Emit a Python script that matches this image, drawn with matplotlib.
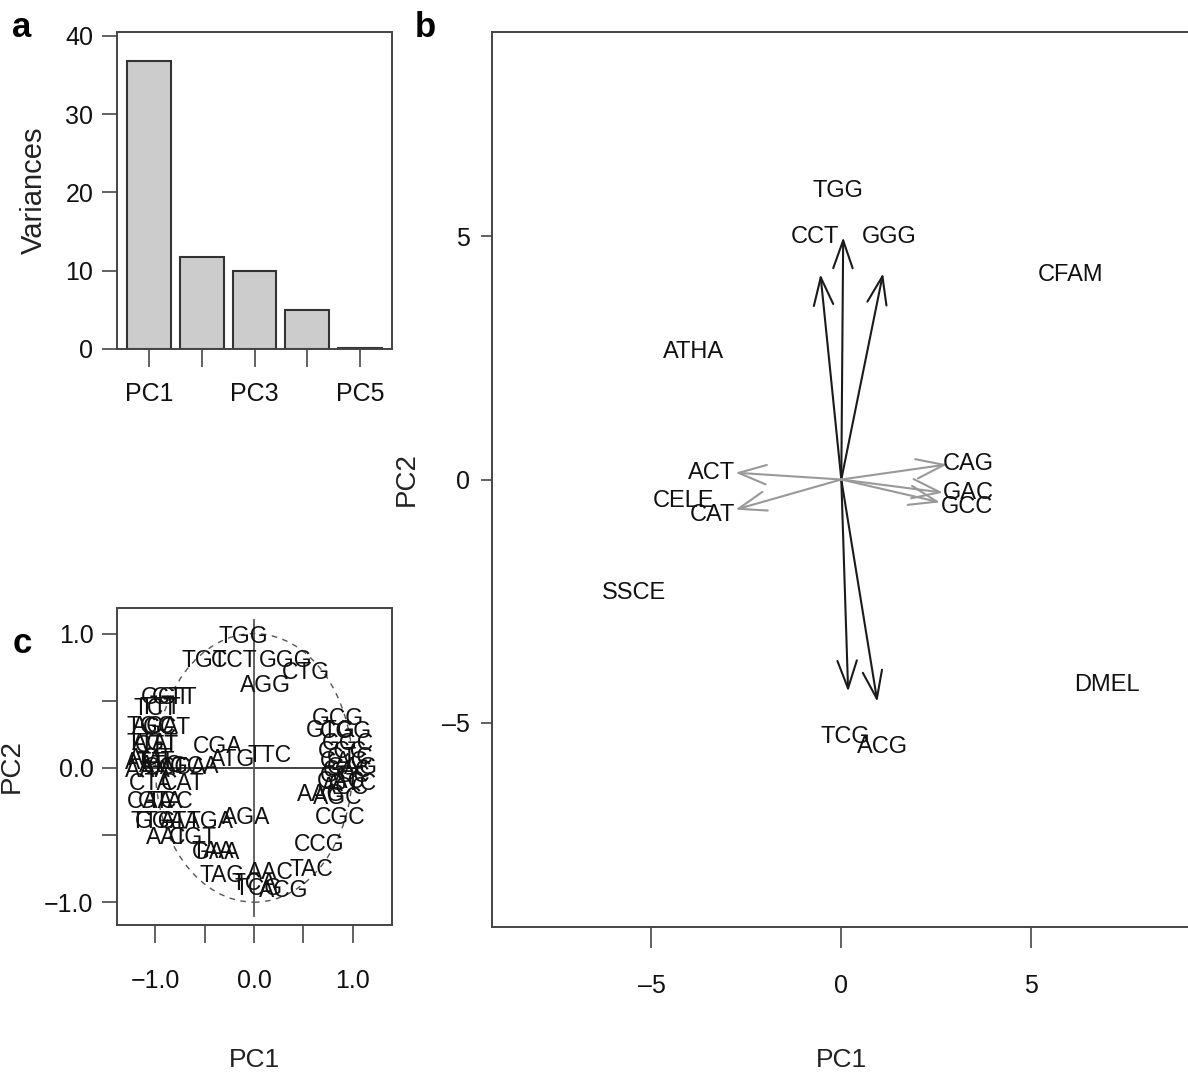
import numpy as np
import matplotlib.pyplot as plt
from matplotlib.patches import Circle, FancyArrowPatch

plt.rcParams['font.family'] = ['Liberation Sans', 'DejaVu Sans']

# panel a: scree plot
pcs = ['PC1', 'PC2', 'PC3', 'PC4', 'PC5']
variances = [36.8, 11.8, 10.0, 5.0, 0.1]

# panel b: biplot
species = ['ATHA', 'CFAM', 'CELE', 'SSCE', 'DMEL']
species_x = [-3.89, 6.05, -4.16, -5.47, 7.00]
species_y = [2.63, 4.20, -0.45, -2.33, -4.22]

codons_b = ['TGG', 'CCT', 'GGG', 'TCG', 'ACG', 'ACT', 'CAT', 'CAG', 'GAC', 'GCC']
tip_x = [0.05, -0.55, 1.10, 0.18, 0.95, -2.79, -2.79, 2.79, 2.68, 2.60]
tip_y = [4.98, 4.22, 4.24, -4.36, -4.57, 0.14, -0.62, 0.31, -0.27, -0.47]
lab_x = [-0.08, -0.69, 1.26, 0.10, 1.08, -3.42, -3.39, 3.34, 3.34, 3.32]
lab_y = [5.93, 4.98, 4.98, -5.29, -5.49, 0.14, -0.74, 0.31, -0.27, -0.56]
arrow_grey = [False, False, False, False, False, True, True, True, True, True]

# panel c: correlation circle
codons_c = ['AAA', 'AAC', 'AAG', 'AAT', 'ACA', 'ACC', 'ACG', 'ACT',
            'AGA', 'AGC', 'AGG', 'AGT', 'ATA', 'ATC', 'ATG', 'ATT',
            'CAA', 'CAC', 'CAG', 'CAT', 'CCA', 'CCC', 'CCG', 'CCT',
            'CGA', 'CGC', 'CGG', 'CGT', 'CTA', 'CTC', 'CTG', 'CTT',
            'GAA', 'GAC', 'GAG', 'GAT', 'GCA', 'GCC', 'GCG', 'GCT',
            'GGA', 'GGC', 'GGG', 'GGT', 'GTA', 'GTC', 'GTG', 'GTT',
            'TAA', 'TAC', 'TAG', 'TAT', 'TCA', 'TCC', 'TCG', 'TCT',
            'TGA', 'TGC', 'TGG', 'TGT', 'TTA', 'TTC', 'TTG', 'TTT']
cor_x = [-1.08, 0.17, 0.68, -0.88, -1.00, 0.92, 0.30, -1.05,
         -0.08, 0.85, 0.12, -1.00, -0.75, -0.95, -0.22, -1.10,
         -1.05, 0.88, 0.92, -0.72, -0.72, 0.90, 0.66, -0.20,
         -0.37, 0.87, 0.93, -0.62, -1.05, 0.98, 0.53, -0.98,
         -0.38, 0.95, 1.00, -0.90, -0.60, 0.93, 0.85, -0.88,
         -0.95, 0.95, 0.32, -0.90, -0.95, 1.00, 0.78, -0.80,
         -0.42, 0.58, -0.32, -1.00, 0.00, -0.85, 0.05, -1.00,
         -0.45, -1.05, -0.11, -0.50, -1.08, 0.16, -1.02, -0.95]
cor_y = [-0.02, -0.78, -0.20, -0.52, 0.31, -0.15, -0.91, 0.07,
         -0.37, -0.22, 0.61, 0.18, -0.40, 0.02, 0.06, 0.04,
         -0.25, -0.10, 0.05, -0.12, 0.00, 0.12, -0.57, 0.80,
         0.16, -0.37, 0.27, -0.52, -0.12, 0.08, 0.71, 0.17,
         -0.63, -0.02, 0.00, 0.00, 0.01, -0.06, 0.37, 0.30,
         -0.40, 0.18, 0.80, 0.52, -0.25, -0.12, 0.28, 0.52,
         -0.62, -0.76, -0.80, 0.05, -0.86, -0.25, -0.90, 0.44,
         -0.40, 0.31, 0.98, 0.80, 0.18, 0.09, -0.40, 0.45]

W, H = 1188, 1077
fig = plt.figure(figsize=(W / 100, H / 100), dpi=100)


def box(l, t, r, b):
    return [l / W, 1 - b / H, (r - l) / W, (b - t) / H]


def r_style(ax):
    for s in ax.spines.values():
        s.set_color('#444444')
        s.set_linewidth(1.4)
    ax.tick_params(direction='out', color='#555555', width=1.3,
                   labelsize=18, labelcolor='#111111')


# ---- a ----
ax_a = fig.add_axes(box(117, 32, 392, 349))
pos = 0.7 + 1.2 * np.arange(len(pcs))
ax_a.bar(pos, variances, width=1.0, color='#cccccc', edgecolor='#333333', linewidth=1.5)
ax_a.set_xlim(-0.032, 6.232)
ax_a.set_ylim(0, 40.5)
ax_a.set_xticks(pos)
ax_a.set_xticklabels([p if i % 2 == 0 else '' for i, p in enumerate(pcs)])
ax_a.set_yticks([0, 10, 20, 30, 40])
r_style(ax_a)
ax_a.tick_params(axis='x', length=13, pad=11)
ax_a.tick_params(axis='y', length=11, pad=6)
ax_a.set_ylabel('Variances', fontsize=21, color='#222222')
ax_a.yaxis.set_label_coords(-0.25, 0.5)

# ---- b ----
ax_b = fig.add_axes(box(492, 32, 1190.6, 927))
ax_b.set_xlim(-9.2, 9.2)
ax_b.set_ylim(-9.2, 9.2)
for name, x, y in zip(species, species_x, species_y):
    ax_b.text(x, y, name, fontsize=17, ha='center', va='center', color='#111111')
for name, tx, ty, lx, ly, g in zip(codons_b, tip_x, tip_y, lab_x, lab_y, arrow_grey):
    col = '#999999' if g else '#1a1a1a'
    ax_b.add_patch(FancyArrowPatch((0, 0), (tx, ty),
                                   arrowstyle='->,head_length=1.0,head_width=0.35',
                                   mutation_scale=20, color=col, lw=1.5,
                                   shrinkA=0, shrinkB=0))
    ax_b.text(lx, ly, name, fontsize=17, ha='center', va='center', color='#111111')
ax_b.set_xticks([-5, 0, 5])
ax_b.set_yticks([-5, 0, 5])
ax_b.set_xticklabels(['\u20135', '0', '5'])
ax_b.set_yticklabels(['\u20135', '0', '5'])
r_style(ax_b)
ax_b.tick_params(axis='x', length=15, pad=19)
ax_b.tick_params(axis='y', length=8, pad=8)
ax_b.set_xlabel('PC1', fontsize=19, color='#222222')
ax_b.xaxis.set_label_coords(0.4996, -0.149)
ax_b.xaxis.label.set_va('center')
ax_b.set_ylabel('PC2', fontsize=20, color='#222222')
ax_b.yaxis.set_label_coords(-0.103, 0.5)

# ---- c ----
ax_c = fig.add_axes(box(117, 608, 392, 925))
ax_c.set_xlim(-1.39, 1.40)
ax_c.set_ylim(-1.17, 1.19)
ax_c.add_patch(Circle((0, 0), 1.0, fill=False, ls=(0, (4, 4)), lw=1.0, color='#555555'))
ax_c.plot([-1.1, 1.1], [0, 0], color='#333333', lw=1.3)
ax_c.plot([0, 0], [-1.1, 1.1], color='#555555', lw=1.3)
for name, x, y in zip(codons_c, cor_x, cor_y):
    ax_c.text(x, y, name, fontsize=16.5, ha='center', va='center', color='#111111')
ax_c.set_xticks([-1.0, -0.5, 0.0, 0.5, 1.0])
ax_c.set_yticks([-1.0, -0.5, 0.0, 0.5, 1.0])
ax_c.set_xticklabels(['\u22121.0', '', '0.0', '', '1.0'])
ax_c.set_yticklabels(['\u22121.0', '', '0.0', '', '1.0'])
r_style(ax_c)
ax_c.tick_params(axis='x', length=13, pad=19)
ax_c.tick_params(axis='y', length=11, pad=6)
ax_c.set_xlabel('PC1', fontsize=19, color='#222222')
ax_c.xaxis.set_label_coords(0.5, -0.426)
ax_c.xaxis.label.set_va('center')
ax_c.set_ylabel('PC2', fontsize=20, color='#222222')
ax_c.yaxis.set_label_coords(-0.335, 0.5)

# panel letters
fig.text(12 / W, 1 - 37 / H, 'a', fontsize=25, fontweight='bold', va='baseline')
fig.text(415 / W, 1 - 37 / H, 'b', fontsize=25, fontweight='bold', va='baseline')
fig.text(13 / W, 1 - 653 / H, 'c', fontsize=25, fontweight='bold', va='baseline')

fig.savefig('out.png', dpi=100)
